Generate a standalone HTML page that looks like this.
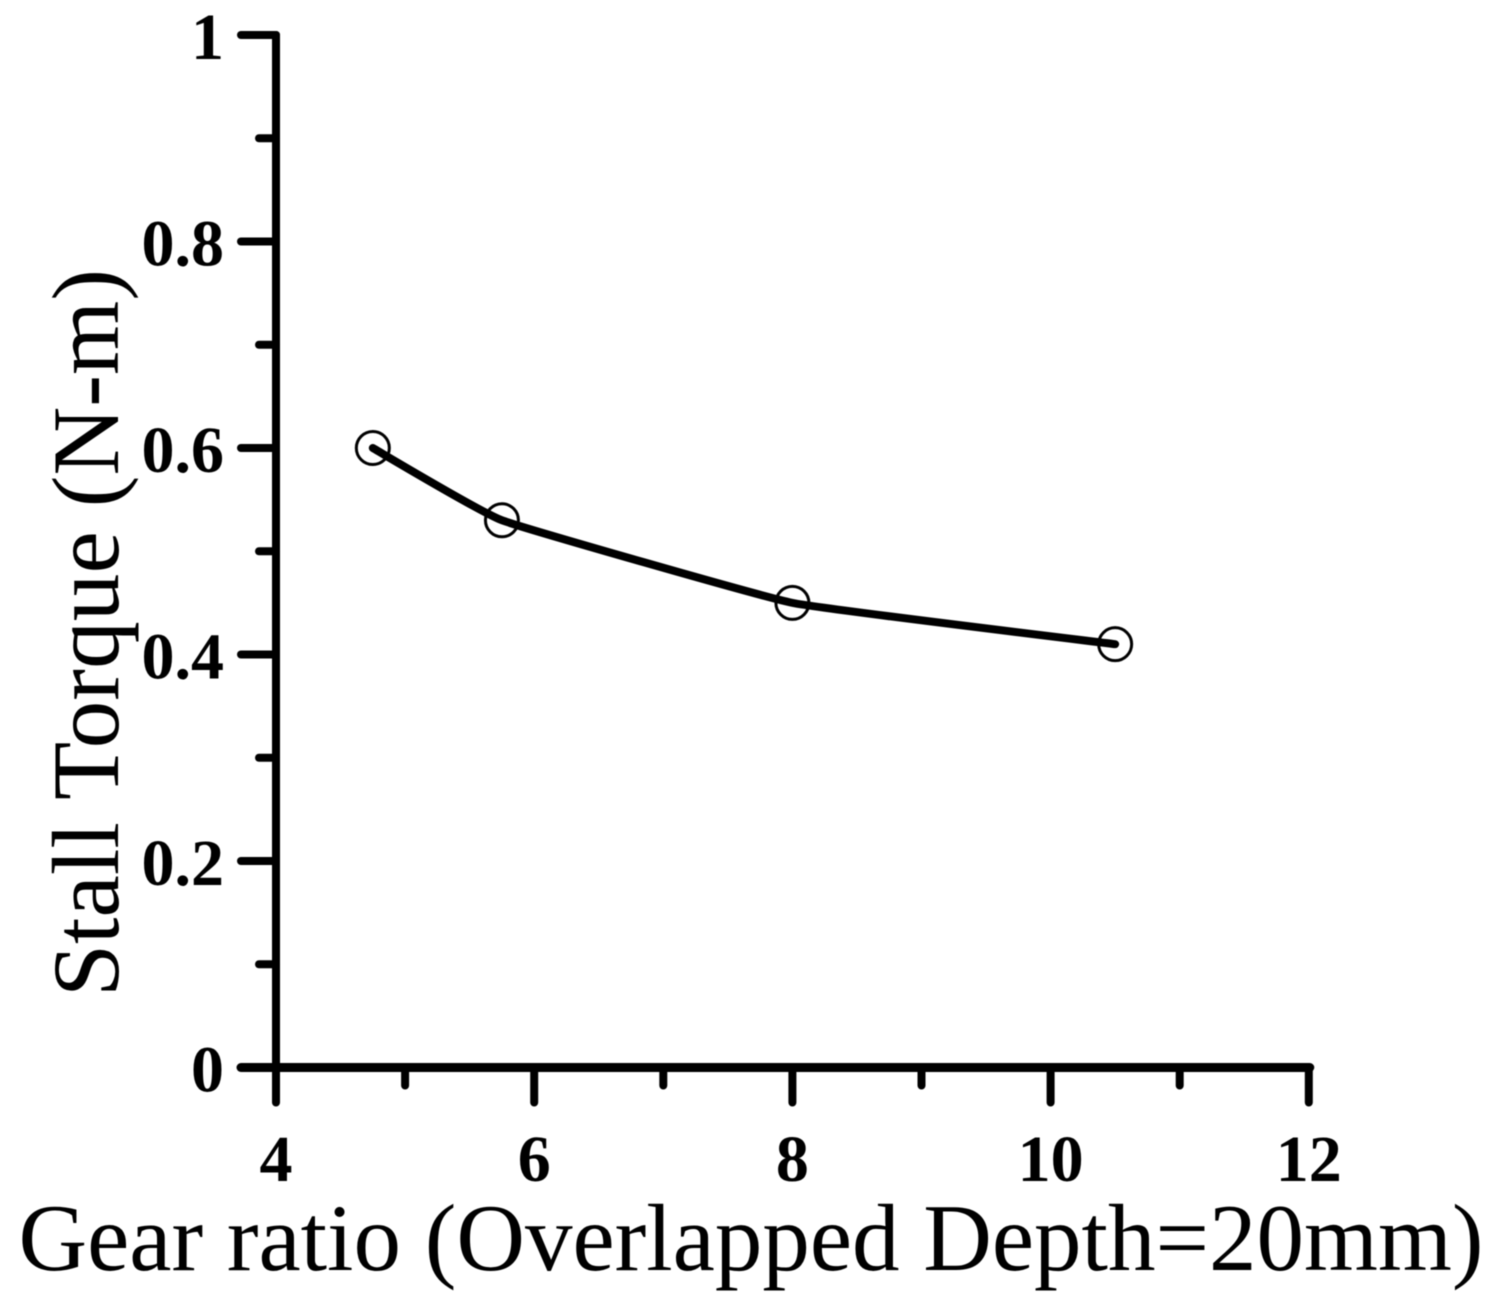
<!DOCTYPE html>
<html>
<head>
<meta charset="utf-8">
<style>
html,body{margin:0;padding:0;background:#fff;}
svg{display:block;filter:blur(0.5px);}
text{font-family:"Liberation Serif",serif;fill:#000;}
.tick{font-weight:bold;font-size:66px;}
.title{font-size:95px;}
</style>
</head>
<body>
<svg id="chart" width="1501" height="1304" viewBox="0 0 1501 1304" xmlns="http://www.w3.org/2000/svg">
<g id="axes"></g>
<path id="line" fill="none" stroke="#000" stroke-width="8" stroke-linejoin="round" stroke-linecap="round"></path>
<g id="points"></g>
<text class="title" x="751" y="1270" text-anchor="middle" textLength="1465" lengthAdjust="spacingAndGlyphs">Gear ratio (Overlapped Depth=20mm)</text>
<text class="title" transform="translate(118,633) rotate(-90)" text-anchor="middle" textLength="728" lengthAdjust="spacingAndGlyphs">Stall Torque (N-m)</text>
</svg>
<script>
const gearRatio = [4.75, 5.75, 8, 10.5];
const stallTorque = [0.6, 0.53, 0.45, 0.41];
const xMajorTicks = [4, 6, 8, 10, 12];
const xMinorTicks = [5, 7, 9, 11];
const yMajorTicks = [0, 0.2, 0.4, 0.6, 0.8, 1];
const yMinorTicks = [0.1, 0.3, 0.5, 0.7, 0.9];

const NS = 'http://www.w3.org/2000/svg';
function sx(v){ return 276 + (v - 4) * 129.1; }
function sy(v){ return 1067.5 - v * 1032.5; }
function make(tag, attrs, parent){
  const el = document.createElementNS(NS, tag);
  for (const k in attrs) el.setAttribute(k, attrs[k]);
  parent.appendChild(el);
  return el;
}
const axes = document.getElementById('axes');
const axisStyle = {stroke:'#000', 'stroke-width':8, fill:'none', 'stroke-linecap':'round'};

const yAxis = make('line', Object.assign({x1:sx(4), y1:sy(1), x2:sx(4), y2:sy(0)}, axisStyle), axes);


const xAxis = make('line', Object.assign({x1:sx(4)-35, y1:sy(0), x2:sx(12)+1, y2:sy(0)}, axisStyle, {'stroke-width':9}), axes);



xMajorTicks.forEach(function(v){
  const t = make('line', Object.assign({x1:sx(v), y1:sy(0), x2:sx(v), y2:sy(0)+35}, axisStyle), axes);
  
  
  const l = make('text', {class:'tick', x:sx(v), y:1181, 'text-anchor':'middle'}, axes);
  l.textContent = String(v);
  
  
});
xMinorTicks.forEach(function(v){
  const t = make('line', Object.assign({x1:sx(v), y1:sy(0), x2:sx(v), y2:sy(0)+18}, axisStyle), axes);
  
  
});
yMajorTicks.forEach(function(v){
  const t = make('line', Object.assign({x1:sx(4)-35, y1:sy(v), x2:sx(4), y2:sy(v)}, axisStyle), axes);
  
  
  const l = make('text', {class:'tick', x:224, y:sy(v)+24, 'text-anchor':'end'}, axes);
  l.textContent = String(v);
  
  
});
yMinorTicks.forEach(function(v){
  const t = make('line', Object.assign({x1:sx(4)-17, y1:sy(v), x2:sx(4), y2:sy(v)}, axisStyle), axes);
  
  
});

const curvePts = gearRatio.map(function(x, i){ return [sx(x), sy(stallTorque[i])]; });
const smooth = 0.05;
let curve = 'M' + curvePts[0][0] + ' ' + curvePts[0][1];
for (let i = 0; i < curvePts.length - 1; i++) {
  const p0 = curvePts[Math.max(i - 1, 0)];
  const p1 = curvePts[i];
  const p2 = curvePts[i + 1];
  const p3 = curvePts[Math.min(i + 2, curvePts.length - 1)];
  curve += ' C' + (p1[0] + (p2[0] - p0[0]) * smooth) + ' ' + (p1[1] + (p2[1] - p0[1]) * smooth) +
    ' ' + (p2[0] - (p3[0] - p1[0]) * smooth) + ' ' + (p2[1] - (p3[1] - p1[1]) * smooth) +
    ' ' + p2[0] + ' ' + p2[1];
}
document.getElementById('line').setAttribute('d', curve);

const points = document.getElementById('points');
gearRatio.forEach(function(x, i){
  const c = make('circle', {cx:sx(x), cy:sy(stallTorque[i]), r:16.5, fill:'none', stroke:'#000', 'stroke-width':3}, points);
  
  
});
</script>
</body>
</html>
